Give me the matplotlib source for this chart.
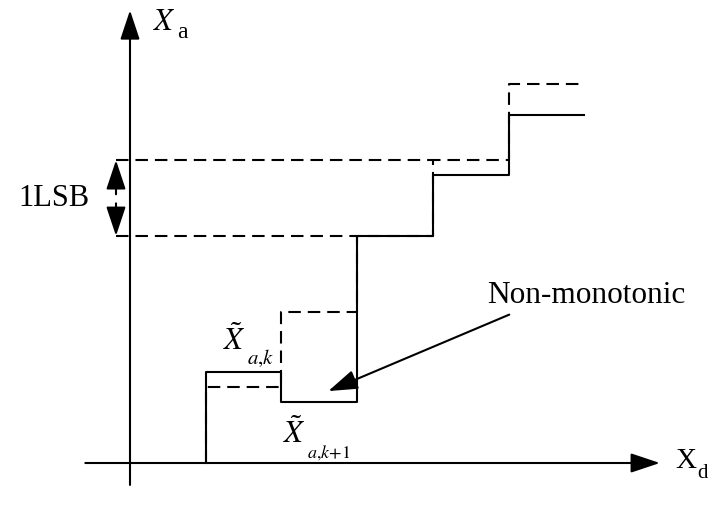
import matplotlib
matplotlib.use("Agg")
import matplotlib.pyplot as plt

plt.rcParams['font.family'] = ['Liberation Serif', 'DejaVu Serif']
plt.rcParams['mathtext.fontset'] = 'stix'
plt.rcParams['lines.scale_dashes'] = False

# code transition points and output levels (in LSB)
edges = [1, 2, 3, 4, 5, 6]
ideal_levels = [1, 2, 3, 4, 5]
actual_levels = [1.2, 0.8, 3.0, 3.8, 4.6]
lsb_lo, lsb_hi = 3, 4

unit = 75.7  # pixels per code / per LSB
W, H = 710, 508
ox, oy = 130, 463  # origin in pixels

fig = plt.figure(figsize=(W / 100, H / 100), dpi=100)
ax = fig.add_axes([0, 0, 1, 1])
ax.set_xlim(-ox / unit, (W - ox) / unit)
ax.set_ylim(-(H - oy) / unit, oy / unit)
ax.axis('off')

lw = 1.5
dash = (9.0, 5.0)


def arrow(tip, tail, hl=18, hw=6):
    ax.annotate('', xy=tip, xytext=tail,
                arrowprops=dict(arrowstyle=f'-|>,head_length={hl},head_width={hw}',
                                mutation_scale=1, lw=lw, color='k',
                                shrinkA=0, shrinkB=0))


def label(x, y, main, sub, size, subsize, gap, drop):
    t = ax.text(x, y, main, fontsize=size, va='baseline', ha='left')
    ax.annotate(sub, xy=(1, 0), xycoords=t, xytext=(gap, -drop),
                textcoords='offset points', fontsize=subsize,
                va='baseline', ha='left')


# axes
arrow((0, 5.98), (0, -0.29))
arrow((7.0, 0), (-0.59, 0))
label(0.30, 5.72, r'$X$', 'a', 22, 17, 1, 1)
label(7.21, -0.07, 'X', 'd', 21, 15, 0, 3)

# ideal transfer curve (dashed)
ix = [edges[0]] + edges
iy = [0] + ideal_levels + [ideal_levels[-1]]
ax.plot(ix, iy, drawstyle='steps-post', color='k', lw=lw, ls=(0, dash))
ax.plot([-0.185, edges[2]], [lsb_lo, lsb_lo], color='k', lw=lw, ls=(0, dash))
ax.plot([-0.185, edges[3]], [lsb_hi, lsb_hi], color='k', lw=lw, ls=(0, dash))

# actual transfer curve (solid)
ax_x = [edges[0]] + edges
ax_y = [0] + actual_levels + [actual_levels[-1]]
ax.plot(ax_x, ax_y, drawstyle='steps-post', color='k', lw=lw, zorder=3)

# 1 LSB marker
xm = -0.185
arrow((xm, lsb_hi), (xm, 3.49 + 0.06))
arrow((xm, lsb_lo), (xm, 3.49 - 0.06))
ax.text(-0.53, 3.49, '1LSB', fontsize=22, va='center', ha='right')

# labels
label(1.23, 1.49, r'$\tilde{X}$', r'$a{,}k$', 22, 15, 1, 5)
label(2.02, 0.26, r'$\tilde{X}$', r'$a{,}k\!+\!1$', 22, 13, 1, 5)
ax.text(4.72, 2.21, 'Non-monotonic', fontsize=22.5, va='center', ha='left')
arrow((2.62, 0.95), (5.01, 1.96))

fig.savefig('out.png', dpi=100)
